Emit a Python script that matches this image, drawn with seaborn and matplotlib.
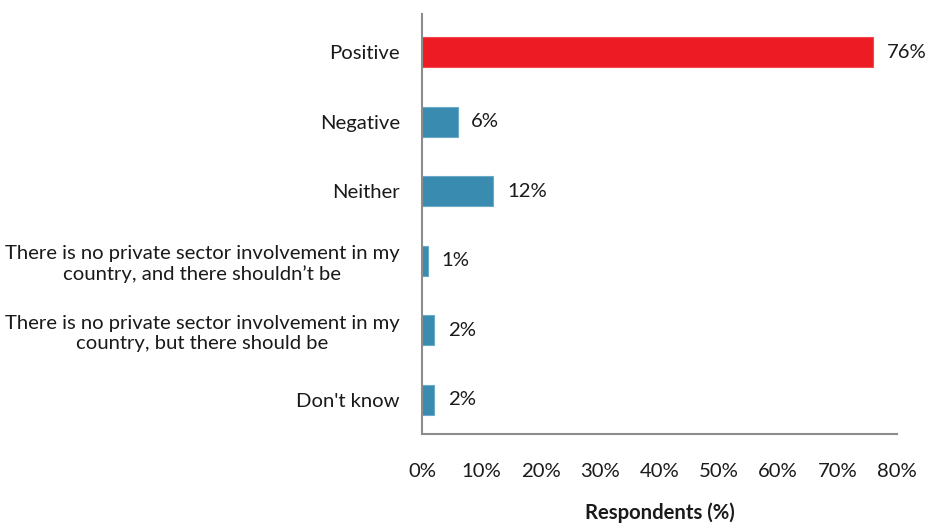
import matplotlib
matplotlib.use("Agg")
import matplotlib.pyplot as plt
import seaborn as sns
import pandas as pd

categories = [
    "Positive",
    "Negative",
    "Neither",
    "There is no private sector involvement in my\ncountry, and there shouldn\u2019t be",
    "There is no private sector involvement in my\ncountry, but there should be",
    "Don't know",
]
values = [76, 6, 12, 1, 2, 2]
bar_colors = ["#ED1C24", "#3A8BB0", "#3A8BB0", "#3A8BB0", "#3A8BB0", "#3A8BB0"]
edge_colors = ["#F04A50", "#6AA9C8", "#6AA9C8", "#6AA9C8", "#6AA9C8", "#6AA9C8"]
x_ticks = [0, 10, 20, 30, 40, 50, 60, 70, 80]

sns.set_theme(style="white")
plt.rcParams["font.family"] = ["Lato", "DejaVu Sans"]
FS = 14.6

df = pd.DataFrame({"category": categories, "value": values})

fig = plt.figure(figsize=(9.3, 5.27), dpi=100)
ax = fig.add_axes([0.4538, 0.1765, 0.5107, 0.7969])

sns.barplot(data=df, x="value", y="category", hue="category",
            palette=bar_colors, legend=False, width=0.43, ax=ax,
            orient="h", saturation=1)
for patch, ec in zip(ax.patches, edge_colors):
    patch.set_edgecolor(ec)
    patch.set_linewidth(0.8)

for i, v in enumerate(values):
    ax.text(v + 2.3, i, f"{v}%", va="center", ha="left", fontsize=FS, color="#1a1a1a")

ax.set_xlim(0, 80)
ax.set_ylim(5.49, -0.55)
ax.set_xticks(x_ticks)
ax.set_xticklabels([f"{t}%" for t in x_ticks], fontsize=FS, color="#1a1a1a")
ax.tick_params(axis="x", direction="out", length=6, width=1.2, color="#8c8c8c", pad=15)
ax.tick_params(axis="y", length=0, pad=16, labelsize=FS, labelcolor="#1a1a1a")
for lbl in ax.get_yticklabels():
    lbl.set_horizontalalignment("right")
    lbl.set_multialignment("center")

ax.set_ylabel("")
ax.set_xlabel("Respondents (%)", fontsize=FS, fontweight="bold", labelpad=16, color="#1a1a1a")

for side in ["top", "right"]:
    ax.spines[side].set_visible(False)
for side in ["left", "bottom"]:
    ax.spines[side].set_color("#8c8c8c")
    ax.spines[side].set_linewidth(1.5)

fig.savefig("out.png", dpi=100)
